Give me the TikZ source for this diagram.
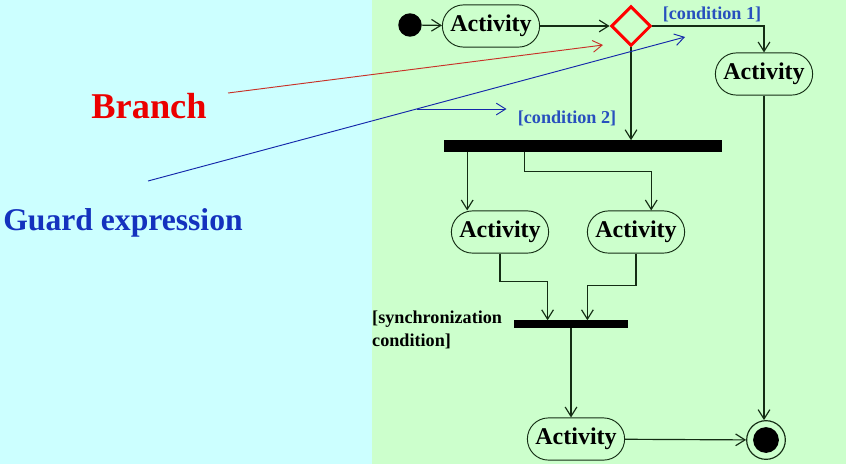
\documentclass[tikz,border=0pt]{standalone}
\usepackage{fontspec}
\setmainfont{Liberation Serif}
\usetikzlibrary{shapes.geometric,arrows.meta}

\definecolor{lcyan}{RGB}{204,255,255}
\definecolor{lgreen}{RGB}{204,255,204}
\definecolor{ink}{RGB}{20,45,20}
\definecolor{guardblue}{RGB}{20,50,190}
\definecolor{condblue}{RGB}{40,80,190}
\definecolor{brred}{RGB}{235,0,0}
\definecolor{brline}{RGB}{200,50,40}
\definecolor{gline}{RGB}{20,40,170}

\tikzset{
act/.style={draw=ink, line width=0.8pt, rounded corners=18pt, minimum width=83pt, minimum height=36pt, inner sep=0pt, font=\fontsize{20.5}{24}\selectfont\bfseries},
bar/.style={fill=black, inner sep=0pt},
flow/.style={draw=ink, line width=1pt, -{Straight Barb[length=8pt,width=10pt]}},
cond/.style={text=condblue, font=\fontsize{15.5}{18}\selectfont\bfseries, inner sep=0pt},
}

\begin{document}
\begin{tikzpicture}[x=0.03cm,y=-0.03cm]
\fill[lcyan] (0,0) rectangle (372,464);
\fill[lgreen] (372,0) rectangle (846,464);
\useasboundingbox (0,0) rectangle (846,464);

\node[circle, fill=black, minimum size=20pt, inner sep=0pt] (start) at (410,25) {};
\node[act] (act1) at (491,26) {Activity};
\node[diamond, draw=red, line width=2.5pt, minimum width=34pt, minimum height=34pt, inner sep=0pt] (branch) at (631,26) {};
\node[act] (act2) at (764,74) {Activity};
\node[bar, minimum width=238pt, minimum height=9.5pt] (fork) at (583,146) {};
\node[act] (act3) at (500,232) {Activity};
\node[act] (act4) at (636,232) {Activity};
\node[bar, minimum width=97pt, minimum height=6pt] (join) at (571,324) {};
\node[act] (act5) at (576,439) {Activity};
\node[circle, draw=ink, line width=1pt, minimum size=33pt, inner sep=0pt] (final) at (766,440) {};
\node[circle, fill=black, minimum size=22pt, inner sep=0pt] (finaldot) at (final) {};

\node[cond] (cond1) at (712,14) {[condition 1]};
\node[cond] (cond2) at (567,118) {[condition 2]};
\node[anchor=west, align=left, inner sep=0pt, font=\fontsize{15.5}{19.5}\selectfont\bfseries] (sync) at (372,330) {[synchronization\\condition]};
\node[text=brred, font=\fontsize{31}{36}\selectfont\bfseries] (brlabel) at (149,106) {Branch};
\node[text=guardblue, font=\fontsize{27}{32}\selectfont\bfseries] (guardlabel) at (123,223) {Guard expression};

\draw[flow] (start) -- (act1);
\draw[flow] (act1) -- (branch);
\draw[flow] (branch.east) -| (act2.north);
\draw[flow] (branch.south) -- (branch.south |- fork.north);
\draw[flow] ([xshift=-28pt]act3.north |- fork.south) -- ([xshift=-28pt]act3.north);
\draw[flow] ([xshift=-50pt]fork.south) -- ++(0,20) -| ([xshift=13pt]act4.north);
\draw[flow] (act3.south) -- ++(0,28) -| ([xshift=-20pt]join.north);
\draw[flow] (act4.south) -- ++(0,32) -| ([xshift=14pt]join.north);
\draw[flow] (join.south) -- (join.south |- act5.north);
\draw[flow] (act5) -- (final);
\draw[flow] (act2.south) -- (act2.south |- final.north);

\coordinate (brtail) at (228,93);
\coordinate (brtip) at (603,45);
\draw[brline, line width=0.8pt, -{Straight Barb[length=8pt,width=10pt]}] (brtail) -- (brtip);

\coordinate (gtail) at (148,181);
\coordinate (gtip) at (685,37);
\draw[gline, line width=0.8pt, -{Straight Barb[length=8pt,width=10pt]}] (gtail) -- coordinate[pos=0.5] (gmid) (gtip);
\draw[gline, line width=0.8pt, -{Straight Barb[length=8pt,width=10pt]}] (gmid) -- ++(90,0);
\end{tikzpicture}
\end{document}
